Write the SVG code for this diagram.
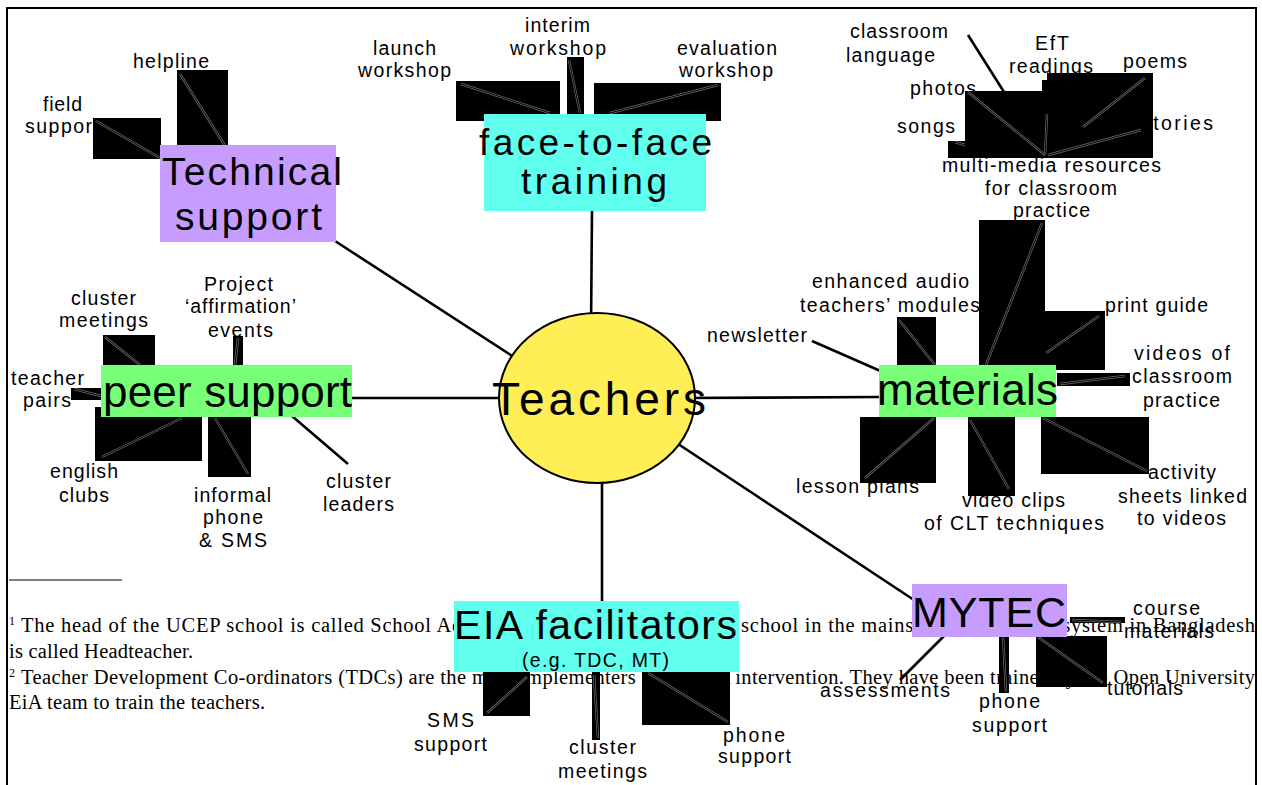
<svg xmlns="http://www.w3.org/2000/svg" width="1262" height="785" viewBox="0 0 1262 785">
<style>
.s{font-family:"Liberation Sans",Arial,sans-serif;font-size:19.5px;fill:#000}
.b{font-family:"Liberation Sans",Arial,sans-serif;fill:#000}
.f{font-family:"Liberation Serif","Times New Roman",serif;font-size:20.5px;fill:#000}
.sup{font-family:"Liberation Serif","Times New Roman",serif;font-size:12px;fill:#000}
.c{stroke:#000;stroke-width:2.6;fill:none}
.blk{fill:#000}
.zo{stroke:#6a6a6a;stroke-width:2.4;fill:none}
.zi{stroke:#000;stroke-width:1;fill:none}
.pur{fill:#c69cff}
.cya{fill:#60ffee}
.grn{fill:#77ff77}
</style>
<rect width="1262" height="785" fill="#fff"/>
<g id="frame" stroke="#000" stroke-width="2" fill="none">
<path d="M7,790 V8 H1256 V790"/>
</g>
<g id="footnotes">
<line x1="9" y1="580" x2="122" y2="580" stroke="#000" stroke-width="1.2"/>
<text class="sup" x="9" y="625">1</text>
<text class="f" x="21" y="632" textLength="1234" lengthAdjust="spacing">The head of the UCEP school is called School Administrator; the head of a state school in the mainstream education system in Bangladesh</text>
<text class="f" x="9" y="658" textLength="184" lengthAdjust="spacing">is called Headteacher.</text>
<text class="sup" x="9" y="677">2</text>
<text class="f" x="21" y="684" textLength="1234" lengthAdjust="spacing">Teacher Development Co-ordinators (TDCs) are the main implementers of the EiA intervention. They have been trained by the Open University</text>
<text class="f" x="9" y="709" textLength="256" lengthAdjust="spacing">EiA team to train the teachers.</text>
</g>
<g id="connectors">
<line class="c" x1="335" y1="241" x2="520" y2="361"/>
<line class="c" x1="592" y1="211" x2="591" y2="330"/>
<line class="c" x1="352" y1="398" x2="520" y2="398"/>
<line class="c" x1="680" y1="398" x2="879" y2="397"/>
<line class="c" x1="602" y1="470" x2="602" y2="601"/>
<line class="c" x1="660" y1="432" x2="914" y2="600"/>
<line class="c" x1="812" y1="341" x2="885" y2="373"/>
<line class="c" x1="968" y1="35" x2="1004" y2="92"/>
<line class="c" x1="292" y1="416" x2="348" y2="464"/>
<line class="c" x1="949" y1="631" x2="900" y2="680"/>
</g>
<g id="teachers">
<ellipse cx="597" cy="398" rx="98" ry="85" fill="#ffee55" stroke="#000" stroke-width="2"/>
<text class="b" x="492" y="415" font-size="46" textLength="214" lengthAdjust="spacing">Teachers</text>
</g>
<g id="technical-support">
<text class="s" x="133" y="68" textLength="76" lengthAdjust="spacing">helpline</text>
<text class="s" x="43" y="111" textLength="39" lengthAdjust="spacing">field</text>
<text class="s" x="25" y="133" textLength="74" lengthAdjust="spacing">support</text>
<rect class="blk" x="93" y="118" width="68" height="41"/>
<rect class="blk" x="177" y="70" width="51" height="81"/>
<line class="zo" x1="96" y1="121" x2="160" y2="158"/><line class="zi" x1="96" y1="121" x2="160" y2="158"/>
<line class="zo" x1="180" y1="74" x2="227" y2="149"/><line class="zi" x1="180" y1="74" x2="227" y2="149"/>
<rect class="pur" x="160" y="145" width="176" height="97"/>
<text class="b" x="162" y="185" font-size="39" textLength="180" lengthAdjust="spacing">Technical</text>
<text class="b" x="175" y="230" font-size="39" textLength="147" lengthAdjust="spacing">support</text>
</g>
<g id="face-to-face">
<text class="s" x="373" y="55" textLength="63" lengthAdjust="spacing">launch</text>
<text class="s" x="358" y="77" textLength="93" lengthAdjust="spacing">workshop</text>
<text class="s" x="525" y="32" textLength="65" lengthAdjust="spacing">interim</text>
<text class="s" x="510" y="55" textLength="96" lengthAdjust="spacing">workshop</text>
<text class="s" x="677" y="55" textLength="100" lengthAdjust="spacing">evaluation</text>
<text class="s" x="679" y="77" textLength="94" lengthAdjust="spacing">workshop</text>
<rect class="blk" x="456" y="81" width="104" height="40"/>
<rect class="blk" x="567" y="57" width="17" height="57"/>
<rect class="blk" x="594" y="83" width="127" height="38"/>
<line class="zo" x1="461" y1="84" x2="550" y2="113"/><line class="zi" x1="461" y1="84" x2="550" y2="113"/>
<line class="zo" x1="569" y1="60" x2="580" y2="113"/><line class="zi" x1="569" y1="60" x2="580" y2="113"/>
<line class="zo" x1="718" y1="85" x2="610" y2="113"/><line class="zi" x1="718" y1="85" x2="610" y2="113"/>
<rect class="cya" x="484" y="114" width="222" height="97"/>
<text class="b" x="479" y="155" font-size="37" textLength="233" lengthAdjust="spacing">face-to-face</text>
<text class="b" x="521" y="194" font-size="37" textLength="146" lengthAdjust="spacing">training</text>
</g>
<g id="multimedia">
<text class="s" x="850" y="38" textLength="98" lengthAdjust="spacing">classroom</text>
<text class="s" x="846" y="62" textLength="89" lengthAdjust="spacing">language</text>
<text class="s" x="1035" y="50" textLength="34" lengthAdjust="spacing">EfT</text>
<text class="s" x="1009" y="73" textLength="84" lengthAdjust="spacing">readings</text>
<text class="s" x="1123" y="68" textLength="64" lengthAdjust="spacing">poems</text>
<text class="s" x="910" y="95" textLength="66" lengthAdjust="spacing">photos</text>
<text class="s" x="897" y="133" textLength="58" lengthAdjust="spacing">songs</text>
<text class="s" x="1141" y="130" textLength="72" lengthAdjust="spacing">stories</text>
<text class="s" x="942" y="172" textLength="219" lengthAdjust="spacing">multi-media resources</text>
<text class="s" x="985" y="195" textLength="132" lengthAdjust="spacing">for classroom</text>
<text class="s" x="1013" y="217" textLength="77" lengthAdjust="spacing">practice</text>
<rect class="blk" x="965" y="91" width="78" height="67"/>
<rect class="blk" x="1042" y="80" width="8" height="78"/>
<rect class="blk" x="1047" y="73" width="106" height="85"/>
<rect class="blk" x="948" y="141" width="17" height="17"/>
<line class="zo" x1="968" y1="92" x2="1045" y2="155"/><line class="zi" x1="968" y1="92" x2="1045" y2="155"/>
<line class="zo" x1="1047" y1="114" x2="1045" y2="155"/><line class="zi" x1="1047" y1="114" x2="1045" y2="155"/>
<line class="zo" x1="1145" y1="78" x2="1083" y2="127"/><line class="zi" x1="1145" y1="78" x2="1083" y2="127"/>
<line class="zo" x1="1141" y1="130" x2="1048" y2="155"/><line class="zi" x1="1141" y1="130" x2="1048" y2="155"/>
<line class="zo" x1="955" y1="142" x2="965" y2="145"/><line class="zi" x1="955" y1="142" x2="965" y2="145"/>
</g>
<g id="materials">
<text class="s" x="707" y="342" textLength="100" lengthAdjust="spacing">newsletter</text>
<text class="s" x="812" y="288" textLength="157" lengthAdjust="spacing">enhanced audio</text>
<text class="s" x="800" y="312" textLength="180" lengthAdjust="spacing">teachers’ modules</text>
<text class="s" x="1105" y="312" textLength="103" lengthAdjust="spacing">print guide</text>
<text class="s" x="1134" y="360" textLength="96" lengthAdjust="spacing">videos  of</text>
<text class="s" x="1132" y="383" textLength="100" lengthAdjust="spacing">classroom</text>
<text class="s" x="1143" y="407" textLength="77" lengthAdjust="spacing">practice</text>
<text class="s" x="796" y="493" textLength="123" lengthAdjust="spacing">lesson plans</text>
<text class="s" x="962" y="507" textLength="103" lengthAdjust="spacing">video clips</text>
<text class="s" x="924" y="530" textLength="180" lengthAdjust="spacing">of CLT techniques</text>
<text class="s" x="1148" y="479" textLength="68" lengthAdjust="spacing">activity</text>
<text class="s" x="1118" y="503" textLength="129" lengthAdjust="spacing">sheets linked</text>
<text class="s" x="1137" y="525" textLength="89" lengthAdjust="spacing">to videos</text>
<rect class="blk" x="979" y="220" width="66" height="153"/>
<rect class="blk" x="897" y="317" width="39" height="48"/>
<rect class="blk" x="1045" y="311" width="60" height="59"/>
<rect class="blk" x="1057" y="373" width="73" height="13"/>
<rect class="blk" x="860" y="417" width="76" height="66"/>
<rect class="blk" x="968" y="417" width="47" height="79"/>
<rect class="blk" x="1041" y="417" width="108" height="57"/>
<line class="zo" x1="899" y1="320" x2="935" y2="365"/><line class="zi" x1="899" y1="320" x2="935" y2="365"/>
<line class="zo" x1="1042" y1="223" x2="986" y2="365"/><line class="zi" x1="1042" y1="223" x2="986" y2="365"/>
<line class="zo" x1="1099" y1="316" x2="1046" y2="353"/><line class="zi" x1="1099" y1="316" x2="1046" y2="353"/>
<line class="zo" x1="1060" y1="384" x2="1125" y2="376"/><line class="zi" x1="1060" y1="384" x2="1125" y2="376"/>
<line class="zo" x1="865" y1="478" x2="934" y2="418"/><line class="zi" x1="865" y1="478" x2="934" y2="418"/>
<line class="zo" x1="970" y1="420" x2="1009" y2="489"/><line class="zi" x1="970" y1="420" x2="1009" y2="489"/>
<line class="zo" x1="1043" y1="418" x2="1147" y2="471"/><line class="zi" x1="1043" y1="418" x2="1147" y2="471"/>
<rect class="grn" x="879" y="365" width="177" height="52"/>
<text class="b" x="877" y="405" font-size="44" textLength="181" lengthAdjust="spacing">materials</text>
</g>
<g id="peer-support">
<text class="s" x="204" y="291" textLength="69" lengthAdjust="spacing">Project</text>
<text class="s" x="185" y="313" textLength="111" lengthAdjust="spacing">‘affirmation’</text>
<text class="s" x="208" y="337" textLength="65" lengthAdjust="spacing">events</text>
<text class="s" x="71" y="305" textLength="65" lengthAdjust="spacing">cluster</text>
<text class="s" x="59" y="327" textLength="89" lengthAdjust="spacing">meetings</text>
<text class="s" x="11" y="385" textLength="73" lengthAdjust="spacing">teacher</text>
<text class="s" x="23" y="407" textLength="48" lengthAdjust="spacing">pairs</text>
<text class="s" x="50" y="478" textLength="68" lengthAdjust="spacing">english</text>
<text class="s" x="59" y="502" textLength="50" lengthAdjust="spacing">clubs</text>
<text class="s" x="194" y="502" textLength="77" lengthAdjust="spacing">informal</text>
<text class="s" x="203" y="524" textLength="60" lengthAdjust="spacing">phone</text>
<text class="s" x="199" y="547" textLength="68" lengthAdjust="spacing">&amp; SMS</text>
<text class="s" x="326" y="488" textLength="65" lengthAdjust="spacing">cluster</text>
<text class="s" x="323" y="511" textLength="71" lengthAdjust="spacing">leaders</text>
<rect class="blk" x="103" y="335" width="52" height="30"/>
<rect class="blk" x="233" y="336" width="10" height="29"/>
<rect class="blk" x="71" y="388" width="31" height="12"/>
<rect class="blk" x="95" y="407" width="107" height="54"/>
<rect class="blk" x="208" y="417" width="43" height="60"/>
<line class="zo" x1="105" y1="337" x2="140" y2="365"/><line class="zi" x1="105" y1="337" x2="140" y2="365"/>
<line class="zo" x1="238" y1="338" x2="235" y2="365"/><line class="zi" x1="238" y1="338" x2="235" y2="365"/>
<line class="zo" x1="74" y1="389" x2="101" y2="396"/><line class="zi" x1="74" y1="389" x2="101" y2="396"/>
<line class="zo" x1="102" y1="457" x2="182" y2="418"/><line class="zi" x1="102" y1="457" x2="182" y2="418"/>
<line class="zo" x1="215" y1="418" x2="248" y2="474"/><line class="zi" x1="215" y1="418" x2="248" y2="474"/>
<rect class="grn" x="101" y="365" width="251" height="52"/>
<text class="b" x="103" y="407" font-size="44" textLength="249" lengthAdjust="spacing">peer support</text>
</g>
<g id="eia-facilitators">
<text class="s" x="427" y="727" textLength="47" lengthAdjust="spacing">SMS</text>
<text class="s" x="414" y="751" textLength="73" lengthAdjust="spacing">support</text>
<text class="s" x="569" y="754" textLength="67" lengthAdjust="spacing">cluster</text>
<text class="s" x="558" y="778" textLength="89" lengthAdjust="spacing">meetings</text>
<text class="s" x="723" y="742" textLength="62" lengthAdjust="spacing">phone</text>
<text class="s" x="718" y="763" textLength="73" lengthAdjust="spacing">support</text>
<rect class="blk" x="483" y="672" width="47" height="44"/>
<rect class="blk" x="592" y="672" width="8" height="68"/>
<rect class="blk" x="642" y="672" width="88" height="53"/>
<line class="zo" x1="487" y1="713" x2="527" y2="677"/><line class="zi" x1="487" y1="713" x2="527" y2="677"/>
<line class="zo" x1="594" y1="675" x2="598" y2="738"/><line class="zi" x1="594" y1="675" x2="598" y2="738"/>
<line class="zo" x1="648" y1="673" x2="728" y2="722"/><line class="zi" x1="648" y1="673" x2="728" y2="722"/>
<rect class="cya" x="454" y="601" width="285" height="71"/>
<text class="b" x="454" y="639" font-size="41" textLength="283" lengthAdjust="spacing">EIA facilitators</text>
<text class="s" x="522" y="667" textLength="147" lengthAdjust="spacing">(e.g. TDC, MT)</text>
</g>
<g id="mytec">
<text class="s" x="1133" y="615" textLength="67" lengthAdjust="spacing">course</text>
<text class="s" x="1124" y="638" textLength="90" lengthAdjust="spacing">materials</text>
<text class="s" x="1107" y="695" textLength="76" lengthAdjust="spacing">tutorials</text>
<text class="s" x="979" y="708" textLength="61" lengthAdjust="spacing">phone</text>
<text class="s" x="972" y="732" textLength="75" lengthAdjust="spacing">support</text>
<text class="s" x="820" y="697" textLength="130" lengthAdjust="spacing">assessments</text>
<rect class="blk" x="1070" y="617" width="55" height="6"/>
<rect class="blk" x="1036" y="636" width="71" height="51"/>
<rect class="blk" x="999" y="636" width="10" height="57"/>
<line class="zo" x1="1072" y1="620" x2="1121" y2="622"/><line class="zi" x1="1072" y1="620" x2="1121" y2="622"/>
<line class="zo" x1="1038" y1="637" x2="1103" y2="683"/><line class="zi" x1="1038" y1="637" x2="1103" y2="683"/>
<line class="zo" x1="1003" y1="637" x2="1006" y2="692"/><line class="zi" x1="1003" y1="637" x2="1006" y2="692"/>
<rect class="pur" x="912" y="584" width="155" height="53"/>
<text class="b" x="912" y="627" font-size="43" textLength="154" lengthAdjust="spacing">MYTEC</text>
</g>
</svg>
